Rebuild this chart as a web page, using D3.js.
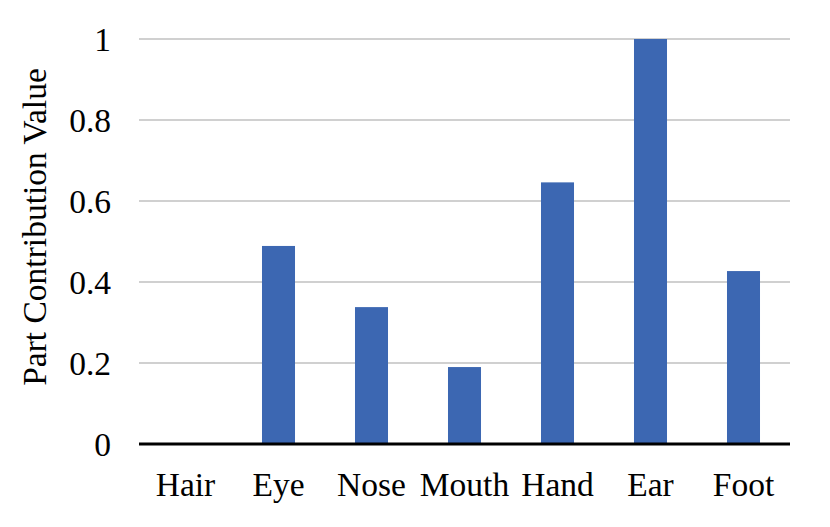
<!DOCTYPE html>
<html><head><meta charset="utf-8">
<script src="https://cdn.jsdelivr.net/npm/d3@7"></script>
<style>body{margin:0;background:#fff}svg{display:block}</style>
</head><body>
<script>
const categories = ["Hair","Eye","Nose","Mouth","Hand","Ear","Foot"];
const values = [0, 0.489, 0.338, 0.19, 0.646, 1.0, 0.427];
const yTicks = [0, 0.2, 0.4, 0.6, 0.8, 1];
const yTickLabels = ["0","0.2","0.4","0.6","0.8","1"];
const yTitle = "Part Contribution Value";

const W = 830, H = 527;
const m = {left: 139, right: 40, top: 39, bottom: 83};
const svg = d3.select("body").append("svg").attr("width", W).attr("height", H);
const font = "'Liberation Serif','Times New Roman',serif";
const fs = 33.5;

const x = d3.scaleBand().domain(categories).range([m.left, W - m.right]).padding(0);
const y = d3.scaleLinear().domain([0, 1]).range([H - m.bottom, m.top]);

// gridlines
svg.append("g").selectAll("line").data(yTicks.filter(d => d > 0)).join("line")
  .attr("x1", m.left).attr("x2", W - m.right)
  .attr("y1", d => y(d)).attr("y2", d => y(d))
  .attr("stroke", "#d0d0d0").attr("stroke-width", 2);

// bars
const bw = x.step() * 0.355;
svg.append("g").selectAll("rect").data(categories).join("rect")
  .attr("x", (d) => x(d) + x.bandwidth() / 2 - bw / 2)
  .attr("width", bw)
  .attr("y", (d, i) => y(values[i]))
  .attr("height", (d, i) => y(0) - y(values[i]))
  .attr("fill", "#3c67b2");

// x axis line
svg.append("line").attr("x1", m.left).attr("x2", W - m.right)
  .attr("y1", y(0)).attr("y2", y(0))
  .attr("stroke", "#000").attr("stroke-width", 3);

// y tick labels
svg.append("g").selectAll("text").data(yTicks).join("text")
  .attr("x", 111).attr("y", d => y(d)).attr("dy", "0.35em")
  .attr("text-anchor", "end").attr("font-family", font).attr("font-size", fs)
  .attr("fill", "#000").text((d, i) => yTickLabels[i]);

// x labels
svg.append("g").selectAll("text").data(categories).join("text")
  .attr("x", d => x(d) + x.bandwidth() / 2).attr("y", 496)
  .attr("text-anchor", "middle").attr("font-family", font).attr("font-size", fs)
  .attr("fill", "#000").text(d => d);

// y title
svg.append("text").attr("transform", "translate(46,227) rotate(-90)")
  .attr("text-anchor", "middle").attr("font-family", font).attr("font-size", fs)
  .attr("fill", "#000").text(yTitle);
</script>
</body></html>
